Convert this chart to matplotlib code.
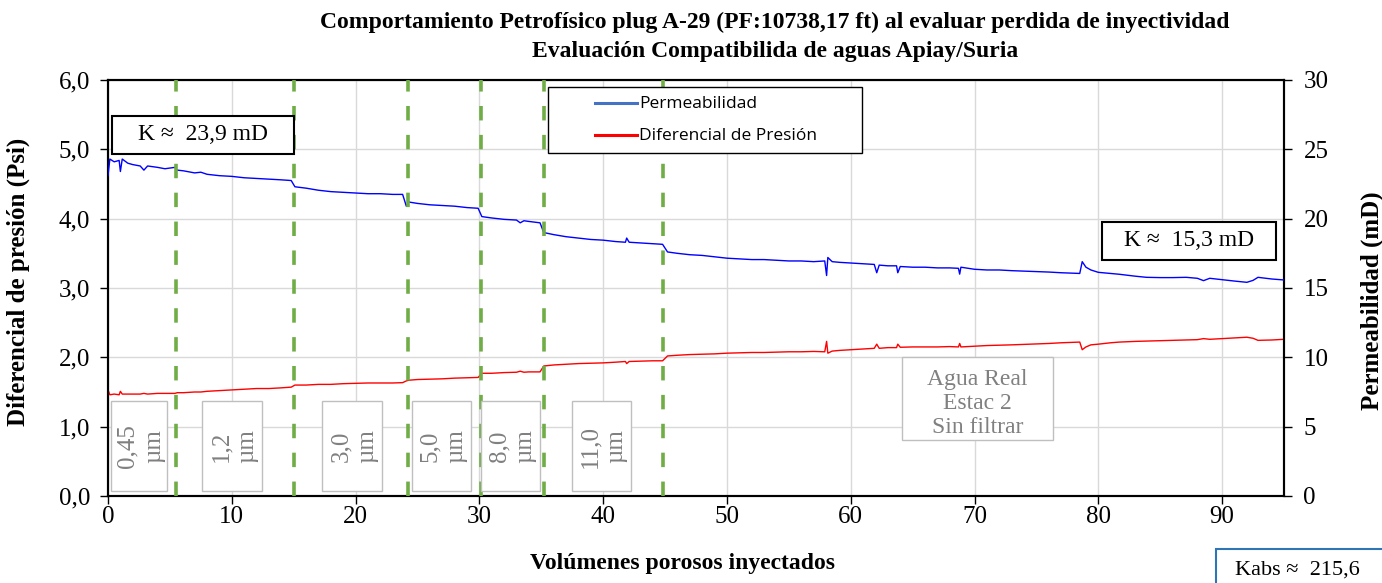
import matplotlib.pyplot as plt
from matplotlib.patches import Rectangle

# volumenes porosos inyectados vs permeabilidad (mD) y diferencial de presion (psi)
vp = [0.0, 0.15, 0.5, 0.9, 1.0, 1.15, 1.6, 2.0, 2.6, 2.9, 3.2, 4.0, 4.6, 5.4, 5.6,
      6.1, 7.0, 7.5, 8.0, 9.0, 10.0, 11.0, 12.0, 13.0, 14.0, 14.8, 15.1, 16.0, 17.0,
      18.0, 19.0, 20.0, 21.0, 22.0, 23.0, 23.8, 24.1, 24.3, 25.0, 26.0, 27.0, 28.0,
      29.0, 29.9, 30.2, 31.0, 32.0, 33.0, 33.3, 33.6, 34.0, 34.9, 35.2, 36.0, 37.0,
      38.0, 39.0, 40.0, 41.0, 41.8, 41.9, 42.1, 43.0, 44.0, 44.8, 45.2, 46.0, 47.0,
      48.0, 49.0, 50.0, 51.0, 52.0, 53.0, 54.0, 55.0, 56.0, 57.0, 57.9, 58.05, 58.15,
      58.5, 59.1, 60.0, 61.0, 61.9, 62.1, 62.3, 63.0, 63.7, 63.8, 64.0, 65.0, 66.0,
      67.0, 68.0, 68.7, 68.8, 68.9, 70.0, 71.0, 72.0, 73.0, 74.5, 76.0, 77.0, 78.5,
      78.7, 79.0, 79.4, 80.0, 81.0, 81.7, 83.0, 83.9, 85.0, 86.0, 87.1, 88.0, 88.5,
      89.0, 90.0, 91.0, 92.0, 92.5, 92.9, 94.0, 95.0]
perm = [23.1, 24.3, 24.1, 24.2, 23.4, 24.3, 24.0, 23.9, 23.8, 23.5, 23.8, 23.7, 23.6,
        23.7, 23.5, 23.45, 23.3, 23.35, 23.2, 23.1, 23.05, 22.95, 22.9, 22.85, 22.8,
        22.75, 22.3, 22.2, 22.05, 21.95, 21.9, 21.85, 21.8, 21.8, 21.75, 21.75, 20.9,
        21.2, 21.1, 21.0, 20.95, 20.9, 20.8, 20.75, 20.15, 20.05, 19.95, 19.9, 19.7,
        19.85, 19.8, 19.7, 19.0, 18.85, 18.7, 18.6, 18.5, 18.45, 18.35, 18.3, 18.6,
        18.3, 18.25, 18.2, 18.15, 17.6, 17.5, 17.4, 17.35, 17.25, 17.15, 17.1, 17.05,
        17.05, 17.0, 16.95, 16.95, 16.9, 16.95, 15.9, 17.2, 16.9, 16.85, 16.8, 16.75,
        16.7, 16.1, 16.65, 16.6, 16.6, 16.1, 16.55, 16.5, 16.5, 16.45, 16.45, 16.42,
        16.0, 16.5, 16.35, 16.3, 16.3, 16.25, 16.2, 16.15, 16.1, 16.05, 16.9, 16.5,
        16.3, 16.13, 16.05, 15.99, 15.85, 15.77, 15.75, 15.75, 15.77, 15.7, 15.53,
        15.7, 15.6, 15.5, 15.41, 15.55, 15.77, 15.65, 15.58]
dp = [1.53, 1.46, 1.47, 1.46, 1.51, 1.47, 1.47, 1.47, 1.47, 1.48, 1.47, 1.48, 1.48,
      1.48, 1.49, 1.49, 1.50, 1.50, 1.51, 1.52, 1.53, 1.54, 1.55, 1.55, 1.56, 1.57,
      1.60, 1.60, 1.61, 1.61, 1.62, 1.625, 1.63, 1.63, 1.63, 1.635, 1.66, 1.67, 1.68,
      1.685, 1.69, 1.70, 1.705, 1.71, 1.77, 1.77, 1.78, 1.785, 1.80, 1.785, 1.79,
      1.79, 1.875, 1.89, 1.90, 1.91, 1.915, 1.92, 1.93, 1.94, 1.91, 1.94, 1.945,
      1.95, 1.95, 2.02, 2.03, 2.04, 2.045, 2.05, 2.06, 2.065, 2.07, 2.07, 2.075,
      2.08, 2.08, 2.085, 2.08, 2.23, 2.06, 2.09, 2.10, 2.11, 2.12, 2.13, 2.19, 2.13,
      2.14, 2.14, 2.19, 2.145, 2.15, 2.15, 2.15, 2.155, 2.15, 2.20, 2.15, 2.16, 2.17,
      2.175, 2.18, 2.19, 2.20, 2.21, 2.22, 2.11, 2.15, 2.18, 2.19, 2.21, 2.22, 2.23,
      2.235, 2.24, 2.245, 2.25, 2.255, 2.27, 2.26, 2.27, 2.28, 2.29, 2.275, 2.245,
      2.25, 2.26]

# cambios de filtro
filter_vp = [5.5, 15.0, 24.2, 30.1, 35.2, 44.8]
filter_labels = ['0,45\nµm', '1,2\nµm', '3,0\nµm', '5,0\nµm', '8,0\nµm', '11,0\nµm']
left_ticks = [0, 1, 2, 3, 4, 5, 6]
right_ticks = [0, 5, 10, 15, 20, 25, 30]

W, H = 1382, 583
plt.rcParams['font.family'] = ['Liberation Serif', 'DejaVu Serif']

fig = plt.figure(figsize=(W / 100, H / 100), dpi=100)
ax = fig.add_axes([108 / W, 1 - 496 / H, (1284 - 108) / W, (496 - 80) / H])
ax2 = ax.twinx()

ax.set_xlim(0, 95)
ax.set_ylim(0, 6)
ax2.set_ylim(0, 30)
ax.set_xticks(range(0, 95, 10))
ax.set_yticks(left_ticks)
ax.set_yticklabels([('%.1f' % v).replace('.', ',') for v in left_ticks])
ax2.set_yticks(right_ticks)
ax.grid(True, color='#d9d9d9', lw=1)
ax.set_axisbelow(True)

ax.plot(vp, dp, color='#ff0000', lw=1.0, zorder=3)
ax2.plot(vp, perm, color='#0000ff', lw=1.0, zorder=3)
for x in filter_vp:
    ax2.axvline(x, color='#70ad47', lw=2.6, dashes=(4, 4), zorder=4)

for a in (ax, ax2):
    a.tick_params(labelsize=18, length=6, width=1, direction='out', pad=7)
    for s in a.spines.values():
        s.set_linewidth(1.5)
        s.set_color('black')
ax.tick_params(axis='x', pad=1)
ax2.tick_params(pad=8)

ax.set_xlabel('Volúmenes porosos inyectados', fontsize=17, fontweight='bold')
ax.xaxis.set_label_coords((683 - 108) / 1176, -(553 - 496) / 416)
ax.set_ylabel('Diferencial de presión (Psi)', fontsize=18, fontweight='bold')
ax.yaxis.set_label_coords(-(108 - 30) / 1176, (496 - 282) / 416)
ax2.set_ylabel('Permeabilidad (mD)', fontsize=18, fontweight='bold', rotation=90)
ax2.yaxis.set_label_coords((1361 - 108) / 1176, (496 - 301) / 416)

fig.text(775 / W, 1 - 37 / H, 'Comportamiento Petrofísico plug A-29 (PF:10738,17 ft) al evaluar perdida de inyectividad\n'
         'Evaluación Compatibilida de aguas Apiay/Suria', ha='center', va='center',
         fontsize=17, fontweight='bold', linespacing=1.45)


def box(x0, y0, x1, y1, edge, lw=1.0):
    r = Rectangle((x0 / W, 1 - y1 / H), (x1 - x0) / W, (y1 - y0) / H, transform=fig.transFigure,
                  facecolor='white', edgecolor=edge, lw=lw, zorder=5)
    fig.add_artist(r)
    return ((x0 + x1) / 2 / W, 1 - (y0 + y1) / 2 / H)


cx, cy = box(112, 116, 294, 154, 'black', 1.5)
fig.text(cx, cy, 'K ≈  23,9 mD', ha='center', va='center', fontsize=17, zorder=6)
cx, cy = box(1102, 222, 1276, 260, 'black', 1.5)
fig.text(cx, cy, 'K ≈  15,3 mD', ha='center', va='center', fontsize=17, zorder=6)
cx, cy = box(902, 357, 1053, 440, '#bfbfbf')
fig.text(cx, cy - 5 / H, 'Agua Real\nEstac 2\nSin filtrar', ha='center', va='center', fontsize=17,
         color='#808080', linespacing=1.2, zorder=6)

box_px = [(111, 167), (202, 262), (322, 382), (412, 471), (481, 540), (572, 631)]
for (x0, x1), lab in zip(box_px, filter_labels):
    cx, cy = box(x0, 401, x1, 491, '#bfbfbf')
    fig.text(cx + 2 / W, cy, lab, ha='center', va='center', rotation=90, fontsize=18,
             color='#808080', linespacing=1.25, zorder=6)

r = Rectangle((1216 / W, 1 - 600 / H), 200 / W, 51 / H, transform=fig.transFigure,
              facecolor='white', edgecolor='#2e75b6', lw=1.5, zorder=5)
fig.add_artist(r)
fig.text(1235 / W, 1 - 570 / H, 'Kabs ≈  215,6', ha='left', va='center', fontsize=16, zorder=6)

# leyenda
box(548, 87, 862, 153, 'black', 1.0)
leg_items = [('Permeabilidad', '#4472c4', 103), ('Diferencial de Presión', '#ff0000', 135)]
for name, col, yp in leg_items:
    fig.add_artist(plt.Line2D([595 / W, 637 / W], [1 - yp / H, 1 - yp / H], color=col, lw=2.2,
                              transform=fig.transFigure, zorder=6))
    fig.text(639 / W, 1 - (yp + 1) / H, name, ha='left', va='center', fontsize=12.5,
             family='Open Sans', zorder=6)

fig.savefig('out.png', dpi=100)
